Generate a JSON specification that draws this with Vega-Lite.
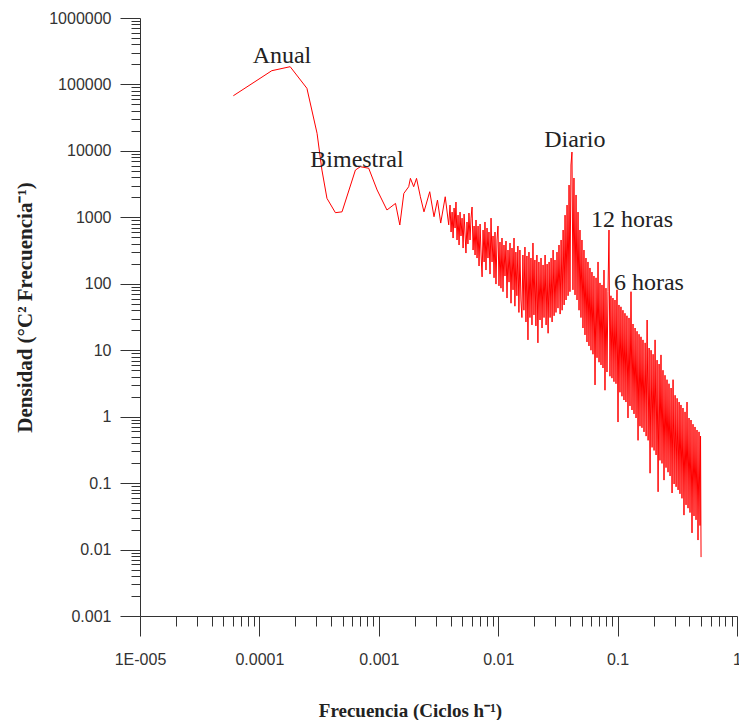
{
  "$schema": "https://vega.github.io/schema/vega-lite/v6.json",
  "autosize": {"type": "none"},
  "width": 597,
  "height": 598,
  "padding": {"left": 140, "top": 18, "right": 2, "bottom": 104},
  "background": "white",
  "config": {"view": {"stroke": null}},
  "datasets": {
    "spec": [
      {"f":6.05e-5,"d":67600},{"f":1.27e-4,"d":161000},{"f":1.81e-4,"d":185000},{"f":2.5e-4,"d":87500},{"f":3.04e-4,"d":18400},{"f":3.34e-4,"d":5150},{"f":3.68e-4,"d":1930},{"f":4.33e-4,"d":1175},{"f":4.92e-4,"d":1210},{"f":6.37e-4,"d":5150},{"f":7.01e-4,"d":5780},{"f":8.23e-4,"d":5480},{"f":9.68e-4,"d":2580},{"f":1.17e-3,"d":1290},{"f":1.38e-3,"d":1620},{"f":1.5e-3,"d":767},{"f":1.62e-3,"d":2290},{"f":1.78e-3,"d":2890},{"f":1.84e-3,"d":3860},{"f":1.96e-3,"d":2890},{"f":2.07e-3,"d":3860},{"f":2.23e-3,"d":2040},{"f":2.39e-3,"d":1210},{"f":2.67e-3,"d":2430},{"f":2.9e-3,"d":1020},{"f":3.1e-3,"d":1820},{"f":3.3e-3,"d":820},{"f":3.6e-3,"d":2040},{"f":3.85e-3,"d":770},
      {"f":3.95e-3,"d":1530},{"f":4.03e-3,"d":601},{"f":4.11e-3,"d":1200},{"f":4.19e-3,"d":488},{"f":4.27e-3,"d":1380},{"f":4.35e-3,"d":690},{"f":4.43e-3,"d":1700},{"f":4.52e-3,"d":456},{"f":4.61e-3,"d":1080},{"f":4.70e-3,"d":383},
      {"f":4.79e-3,"d":1200},{"f":4.88e-3,"d":524},{"f":4.98e-3,"d":973},{"f":5.08e-3,"d":345},{"f":5.18e-3,"d":1120},{"f":5.37e-3,"d":290},{"f":5.48e-3,"d":851},{"f":5.58e-3,"d":397},{"f":5.69e-3,"d":1160},
      {"f":5.81e-3,"d":456},{"f":5.92e-3,"d":973},{"f":6.04e-3,"d":1430},{"f":6.16e-3,"d":322},{"f":6.28e-3,"d":740},{"f":6.40e-3,"d":271},{"f":6.52e-3,"d":912},{"f":6.65e-3,"d":244},{"f":6.78e-3,"d":740},{"f":6.91e-3,"d":185},
      {"f":7.05e-3,"d":793},{"f":7.19e-3,"d":271},{"f":7.33e-3,"d":127},{"f":7.47e-3,"d":644},{"f":7.62e-3,"d":213},{"f":7.75e-3,"d":851},{"f":7.90e-3,"d":161},{"f":8.06e-3,"d":690},{"f":8.21e-3,"d":244},{"f":8.37e-3,"d":601},
      {"f":8.54e-3,"d":140},{"f":8.71e-3,"d":973},{"f":8.88e-3,"d":213},{"f":9.05e-3,"d":524},{"f":9.23e-3,"d":123},{"f":9.40e-3,"d":601},{"f":9.58e-3,"d":99},{"f":9.77e-3,"d":456},{"f":9.96e-3,"d":740},{"f":1.015e-2,"d":93},
      {"f":1.035e-2,"d":425},{"f":1.055e-2,"d":86},{"f":1.076e-2,"d":488},{"f":1.097e-2,"d":76},{"f":1.118e-2,"d":383},{"f":1.14e-2,"d":131},{"f":1.162e-2,"d":440},{"f":1.185e-2,"d":61},{"f":1.208e-2,"d":322},{"f":1.232e-2,"d":106},
      {"f":1.256e-2,"d":411},{"f":1.28e-2,"d":51},{"f":1.305e-2,"d":345},{"f":1.331e-2,"d":81},{"f":1.357e-2,"d":488},{"f":1.38e-2,"d":46},{"f":1.407e-2,"d":300},{"f":1.434e-2,"d":66},{"f":1.462e-2,"d":370},{"f":1.491e-2,"d":37},
      {"f":1.52e-2,"d":322},{"f":1.55e-2,"d":57},{"f":1.58e-2,"d":31},{"f":1.611e-2,"d":271},{"f":1.642e-2,"d":40},{"f":1.675e-2,"d":357},{"f":1.708e-2,"d":26.6},{"f":1.741e-2,"d":262},{"f":1.775e-2,"d":14.3},{"f":1.81e-2,"d":300},
      {"f":1.845e-2,"d":31},{"f":1.881e-2,"d":244},{"f":1.918e-2,"d":24},{"f":1.955e-2,"d":411},{"f":1.993e-2,"d":34},{"f":2.03e-2,"d":228},{"f":2.07e-2,"d":23.2},{"f":2.11e-2,"d":271},{"f":2.151e-2,"d":12.9},{"f":2.193e-2,"d":213},
      {"f":2.24e-2,"d":28.5},{"f":2.284e-2,"d":244},{"f":2.328e-2,"d":21.6},{"f":2.374e-2,"d":192},{"f":2.42e-2,"d":31},{"f":2.47e-2,"d":271},{"f":2.518e-2,"d":24},{"f":2.567e-2,"d":198},{"f":2.617e-2,"d":18},{"f":2.668e-2,"d":213},
      {"f":2.72e-2,"d":31},{"f":2.773e-2,"d":244},{"f":2.827e-2,"d":26.6},{"f":2.882e-2,"d":322},{"f":2.938e-2,"d":33},{"f":2.99e-2,"d":228},{"f":3.048e-2,"d":37},{"f":3.108e-2,"d":300},{"f":3.168e-2,"d":43},{"f":3.23e-2,"d":383},
      {"f":3.30e-2,"d":35},{"f":3.364e-2,"d":456},{"f":3.43e-2,"d":40},{"f":3.497e-2,"d":644},{"f":3.565e-2,"d":48},{"f":3.63e-2,"d":1080},{"f":3.70e-2,"d":57},{"f":3.773e-2,"d":1530},{"f":3.847e-2,"d":66},{"f":3.921e-2,"d":3060},
      {"f":3.99e-2,"d":76},{"f":4.068e-2,"d":6130},{"f":4.147e-2,"d":9610},{"f":4.228e-2,"d":81},{"f":4.31e-2,"d":3910},{"f":4.40e-2,"d":68},{"f":4.486e-2,"d":2170},{"f":4.573e-2,"d":57},{"f":4.662e-2,"d":1200},{"f":4.753e-2,"d":40},
      {"f":4.84e-2,"d":644},{"f":4.934e-2,"d":31},{"f":5.03e-2,"d":456},{"f":5.129e-2,"d":21.6},{"f":5.229e-2,"d":322},{"f":5.33e-2,"d":17},{"f":5.434e-2,"d":244},{"f":5.54e-2,"d":13.3},{"f":5.648e-2,"d":213},{"f":5.758e-2,"d":11.6},
      {"f":5.87e-2,"d":173},{"f":5.984e-2,"d":10},{"f":6.101e-2,"d":150},{"f":6.22e-2,"d":8.7},{"f":6.341e-2,"d":131},{"f":6.47e-2,"d":3.0},{"f":6.596e-2,"d":123},{"f":6.725e-2,"d":7.7},{"f":6.856e-2,"d":213},{"f":6.99e-2,"d":6.6},
      {"f":7.12e-2,"d":103},{"f":7.259e-2,"d":6.0},{"f":7.40e-2,"d":96},{"f":7.545e-2,"d":5.4},{"f":7.692e-2,"d":161},{"f":7.84e-2,"d":2.5},{"f":7.993e-2,"d":86},{"f":8.149e-2,"d":4.7},{"f":8.308e-2,"d":76},{"f":8.47e-2,"d":644},
      {"f":8.63e-2,"d":4.06},{"f":8.798e-2,"d":66},{"f":8.97e-2,"d":3.8},{"f":9.145e-2,"d":61},{"f":9.323e-2,"d":3.36},{"f":9.51e-2,"d":57},{"f":9.695e-2,"d":3.13},{"f":9.884e-2,"d":81},{"f":0.1008,"d":0.83},{"f":0.1027,"d":48},
      {"f":0.1047,"d":2.33},{"f":0.1067,"d":45},{"f":0.1088,"d":2.03},{"f":0.1109,"d":40},{"f":0.1131,"d":1.78},{"f":0.1153,"d":36},{"f":0.1175,"d":1.66},{"f":0.1198,"d":33},{"f":0.1222,"d":0.955},{"f":0.1246,"d":30.6},
      {"f":0.127,"d":1.45},{"f":0.1295,"d":76},{"f":0.132,"d":1.26},{"f":0.1346,"d":24.8},{"f":0.1372,"d":1.10},{"f":0.140,"d":21.6},{"f":0.1427,"d":0.955},{"f":0.1455,"d":19.3},{"f":0.1483,"d":0.44},{"f":0.1512,"d":17.4},
      {"f":0.154,"d":0.72},{"f":0.157,"d":15.9},{"f":0.160,"d":0.68},{"f":0.1632,"d":14.3},{"f":0.1664,"d":0.59},{"f":0.170,"d":12.9},{"f":0.1733,"d":0.51},{"f":0.1767,"d":28.5},{"f":0.1801,"d":0.44},{"f":0.1836,"d":10.8},
      {"f":0.187,"d":0.141},{"f":0.1906,"d":10},{"f":0.1944,"d":0.345},{"f":0.1982,"d":8.7},{"f":0.202,"d":0.31},{"f":0.206,"d":14.3},{"f":0.21,"d":0.265},{"f":0.2141,"d":7.1},{"f":0.2183,"d":0.074},{"f":0.2225,"d":6.2},
      {"f":0.2265,"d":0.22},{"f":0.2309,"d":8.5},{"f":0.2354,"d":0.198},{"f":0.24,"d":5.0},{"f":0.2447,"d":0.111},{"f":0.2495,"d":4.2},{"f":0.2544,"d":0.171},{"f":0.2593,"d":3.6},{"f":0.2644,"d":0.146},{"f":0.2695,"d":3.13},
      {"f":0.275,"d":0.128},{"f":0.2804,"d":2.7},{"f":0.2858,"d":0.071},{"f":0.2914,"d":3.6},{"f":0.2971,"d":0.097},{"f":0.303,"d":2.1},{"f":0.3089,"d":0.088},{"f":0.3149,"d":1.89},{"f":0.321,"d":0.079},{"f":0.3273,"d":1.66},
      {"f":0.333,"d":0.069},{"f":0.3395,"d":1.5},{"f":0.3461,"d":0.059},{"f":0.3529,"d":1.35},{"f":0.3597,"d":0.033},{"f":0.367,"d":1.18},{"f":0.3742,"d":0.047},{"f":0.3815,"d":1.66},{"f":0.3889,"d":0.042},{"f":0.3965,"d":0.955},
      {"f":0.404,"d":0.036},{"f":0.4119,"d":0.89},{"f":0.4199,"d":0.0178},{"f":0.4281,"d":0.77},{"f":0.4364,"d":0.032},{"f":0.445,"d":0.70},{"f":0.4537,"d":0.028},{"f":0.4625,"d":0.63},{"f":0.4715,"d":0.0139},{"f":0.4807,"d":0.59},
      {"f":0.49,"d":0.023},{"f":0.495,"d":0.51},{"f":0.5,"d":0.0077}
    ],
    "ann": [
      {"f":1.545e-4,"d":210000,"t":"Anual"},
      {"f":6.56e-4,"d":5720,"t":"Bimestral"},
      {"f":0.0438,"d":11560,"t":"Diario"},
      {"f":0.132,"d":723,"t":"12 horas"},
      {"f":0.183,"d":81,"t":"6 horas"}
    ]
  },
  "resolve": {"axis": {"x": "independent", "y": "independent"}},
  "layer": [
    {
      "data": {"name": "spec"},
      "mark": {"type": "line", "color": "#ff0000", "strokeWidth": 1, "interpolate": "linear", "clip": false},
      "encoding": {
        "x": {
          "field": "f", "type": "quantitative", "sort": null,
          "scale": {"type": "log", "domain": [0.00001, 1], "nice": false},
          "axis": {
            "orient": "bottom",
            "values": [0.00001,0.0001,0.001,0.01,0.1,1],
            "labelExpr": "datum.value < 0.00002 ? '1E-005' : toString(datum.value)",
            "tickSize": 20,
            "grid": false,
            "labelFlush": false, "labelOverlap": false, "labelBound": false,
            "labelFont": "Liberation Sans", "labelFontSize": 16, "labelColor": "#333", "labelPadding": 15,
            "domainColor": "#333", "tickColor": "#333", "domainWidth": 1, "tickWidth": 1,
            "title": "Frecuencia (Ciclos h⁻¹)",
            "titleFont": "Liberation Serif", "titleFontSize": 19, "titleFontWeight": "bold", "titleColor": "#222",
            "titleX": 270, "titleY": 94, "titleBaseline": "middle", "titleAnchor": "middle", "titleAlign": "center"
          }
        },
        "y": {
          "field": "d", "type": "quantitative",
          "scale": {"type": "log", "domain": [0.001, 1000000], "nice": false},
          "axis": {
            "orient": "left",
            "values": [0.001,0.01,0.1,1,10,100,1000,10000,100000,1000000],
            "labelExpr": "toString(datum.value)",
            "tickSize": 20,
            "grid": false,
            "labelFlush": false, "labelOverlap": false, "labelBound": false,
            "labelFont": "Liberation Sans", "labelFontSize": 16, "labelColor": "#333", "labelPadding": 9,
            "domainColor": "#333", "tickColor": "#333", "domainWidth": 1, "tickWidth": 1,
            "title": "Densidad  (°C² Frecuencia⁻¹)",
            "titleFont": "Liberation Serif", "titleFontSize": 21, "titleFontWeight": "bold", "titleColor": "#222",
            "titleX": -115, "titleY": 289, "titleAngle": -90, "titleBaseline": "middle", "titleAlign": "center"
          }
        }
      }
    },
    {
      "data": {"name": "ann"},
      "mark": {"type": "text", "font": "Liberation Serif", "fontSize": 24, "color": "#222", "align": "center", "baseline": "alphabetic"},
      "encoding": {
        "x": {
          "field": "f", "type": "quantitative",
          "axis": {
            "orient": "bottom",
            "values": [0.00002,0.00003,0.00004,0.00005,0.00006,0.00007,0.00008,0.00009,0.0002,0.0003,0.0004,0.0005,0.0006,0.0007,0.0008,0.0009,0.002,0.003,0.004,0.005,0.006,0.007,0.008,0.009,0.02,0.03,0.04,0.05,0.06,0.07,0.08,0.09,0.2,0.3,0.4,0.5,0.6,0.7,0.8,0.9],
            "labels": false, "title": null, "domain": false, "grid": false,
            "tickSize": 10, "tickColor": "#333", "tickWidth": 1
          }
        },
        "y": {
          "field": "d", "type": "quantitative",
          "axis": {
            "orient": "left",
            "values": [0.002,0.003,0.004,0.005,0.006,0.007,0.008,0.009,0.02,0.03,0.04,0.05,0.06,0.07,0.08,0.09,0.2,0.3,0.4,0.5,0.6,0.7,0.8,0.9,2,3,4,5,6,7,8,9,20,30,40,50,60,70,80,90,200,300,400,500,600,700,800,900,2000,3000,4000,5000,6000,7000,8000,9000,20000,30000,40000,50000,60000,70000,80000,90000,200000,300000,400000,500000,600000,700000,800000,900000],
            "labels": false, "title": null, "domain": false, "grid": false,
            "tickSize": 9, "tickColor": "#333", "tickWidth": 1
          }
        },
        "text": {"field": "t", "type": "nominal"}
      }
    }
  ]
}
